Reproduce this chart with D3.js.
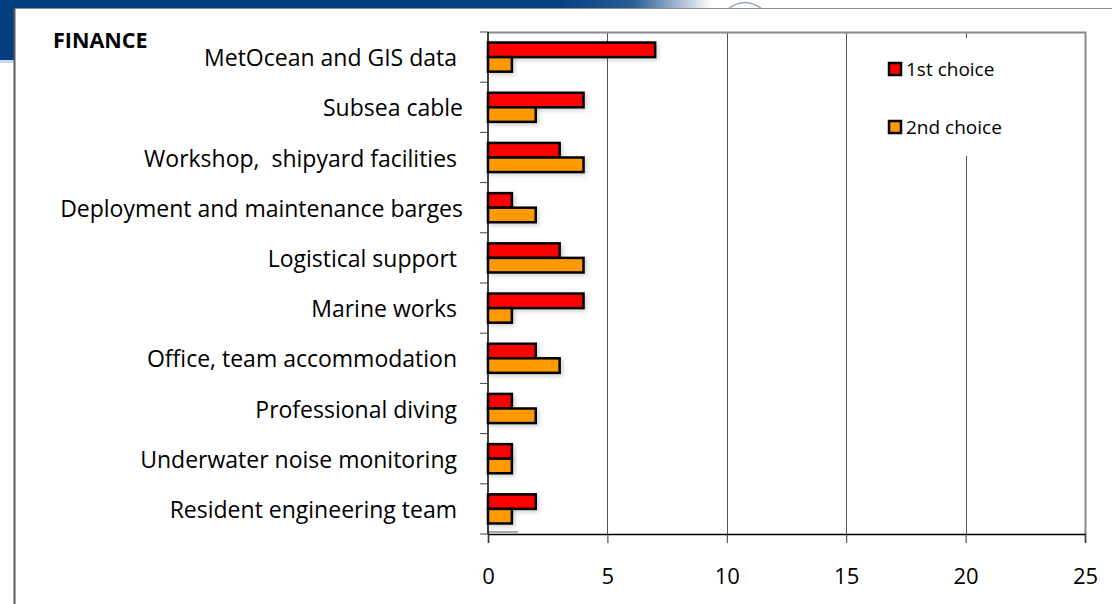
<!DOCTYPE html>
<html>
<head>
<meta charset="utf-8">
<script src="https://cdn.jsdelivr.net/npm/d3@7"></script>
<style>
  body { margin: 0; background: #fff; }
  svg { display: block; font-family: "Open Sans", sans-serif; }
</style>
</head>
<body>
<div id="chart"></div>
<script>
// data
var categories = ["MetOcean and GIS data ", "Subsea cable", "Workshop,  shipyard facilities ",
  "Deployment and maintenance barges", "Logistical support ", "Marine works ",
  "Office, team accommodation ", "Professional diving ", "Underwater noise monitoring ",
  "Resident engineering team "]
var firstChoice = [7, 4, 3, 1, 3, 4, 2, 1, 1, 2]
var secondChoice = [1, 2, 4, 2, 4, 1, 3, 2, 1, 1]
var seriesNames = ["1st choice", "2nd choice"]
var seriesColors = ["#ff0000", "#ff9900"]
var xTicks = [0, 5, 10, 15, 20, 25]

var width = 1112
    height = 604

var svg = d3.select("#chart")
  .append("svg")
    .attr("width", width)
    .attr("height", height)

var defs = svg.append("defs")

// slide header band
var grad = defs.append("linearGradient").attr("id", "band")
  .attr("x1", 0).attr("x2", 1).attr("y1", 0).attr("y2", 0)
grad.append("stop").attr("offset", "0%").attr("stop-color", "#023e7d")
grad.append("stop").attr("offset", "50%").attr("stop-color", "#043f80")
grad.append("stop").attr("offset", "57%").attr("stop-color", "#2a5d95")
grad.append("stop").attr("offset", "64%").attr("stop-color", "#ffffff")

svg.append("rect").attr("x", 0).attr("y", 0).attr("width", width).attr("height", 9)
  .attr("fill", "url(#band)")
svg.append("rect").attr("x", 0).attr("y", 0).attr("width", 15).attr("height", 60)
  .attr("fill", "#023e7d")
svg.append("rect").attr("x", 0).attr("y", 60).attr("width", 15).attr("height", 3)
  .attr("fill", "#c9d8ea")
// little logo edge
svg.append("path").attr("d", "M728,9 Q745,-4 762,9").attr("fill", "none")
  .attr("stroke", "#9aa7b8").attr("stroke-width", 1.5)

// white panel
svg.append("rect").attr("x", 14).attr("y", 8).attr("width", width - 14).attr("height", height - 8)
  .attr("fill", "#fff")
svg.append("line").attr("x1", 14).attr("x2", width).attr("y1", 8.5).attr("y2", 8.5)
  .attr("stroke", "#8c8c8c").attr("stroke-width", 1)
svg.append("line").attr("x1", 14.5).attr("x2", 14.5).attr("y1", 8).attr("y2", height)
  .attr("stroke", "#5a5a5a").attr("stroke-width", 2)

svg.append("text").attr("x", 53).attr("y", 48)
  .style("font-weight", "bold").style("font-size", "21.5px").text("FINANCE")

// plot area
var plotLeft = 488, plotRight = 1085, plotTop = 32, plotBottom = 534

var x = d3.scaleLinear().domain([0, 25]).range([plotLeft, plotRight])
var y = d3.scaleBand().domain(categories).range([plotTop, plotBottom]).paddingInner(0.42).paddingOuter(0.21)
var ySub = d3.scaleBand().domain(seriesNames).range([0, y.bandwidth()])

// gridlines
svg.selectAll("grid")
  .data(xTicks.slice(1, -1))
  .enter()
  .append("line")
    .attr("x1", function(d){ return Math.round(x(d)) + 0.5 })
    .attr("x2", function(d){ return Math.round(x(d)) + 0.5 })
    .attr("y1", plotTop)
    .attr("y2", plotBottom)
    .attr("stroke", "#555")
    .attr("stroke-width", 1)

// plot frame top + right
svg.append("path")
  .attr("d", "M" + plotLeft + "," + (plotTop + 0.5) + "H" + (plotRight + 0.5) + "V" + plotBottom)
  .attr("fill", "none").attr("stroke", "#8a8a8a").attr("stroke-width", 2)

// shadow for bars
var f = defs.append("filter").attr("id", "shadow").attr("x", "-10%").attr("y", "-30%")
  .attr("width", "130%").attr("height", "180%")
f.append("feDropShadow").attr("dx", 2).attr("dy", 2).attr("stdDeviation", 2)
  .attr("flood-color", "#000").attr("flood-opacity", 0.18)

var rows = categories.map(function(c, i){ return {cat: c, values: [firstChoice[i], secondChoice[i]]} })

var groups = svg.selectAll("rowGroup")
  .data(rows)
  .enter()
  .append("g")
    .attr("transform", function(d){ return "translate(0," + y(d.cat) + ")" })

groups.selectAll("bar")
  .data(function(d){ return d.values.map(function(v, i){ return {name: seriesNames[i], value: v, i: i} }) })
  .enter()
  .append("rect")
    .attr("x", x(0))
    .attr("y", function(d){ return ySub(d.name) })
    .attr("width", function(d){ return x(d.value) - x(0) })
    .attr("height", ySub.bandwidth())
    .attr("fill", function(d){ return seriesColors[d.i] })
    .attr("stroke", "#000")
    .attr("stroke-width", 2.5)
    .attr("filter", "url(#shadow)")

// little gray artifact under the last bar
svg.append("line").attr("x1", plotLeft).attr("x2", plotLeft + 30).attr("y1", plotBottom - 2).attr("y2", plotBottom - 2)
  .attr("stroke", "#aaa").attr("stroke-width", 2)

// x axis
var xAxis = svg.append("g")
  .attr("transform", "translate(0," + plotBottom + ")")
  .call(d3.axisBottom(x).tickValues(xTicks).tickSize(9).tickPadding(25))
xAxis.select(".domain").attr("stroke", "#000").attr("stroke-width", 1.5)
xAxis.selectAll(".tick line").attr("stroke", "#333")
xAxis.selectAll(".tick text").style("font-size", "22px").attr("fill", "#000")
  .style("font-family", "'Open Sans', sans-serif")

// y axis: line + ticks at category boundaries
svg.append("line").attr("x1", plotLeft).attr("x2", plotLeft).attr("y1", plotTop).attr("y2", plotBottom)
  .attr("stroke", "#000").attr("stroke-width", 1.5)
var step = (plotBottom - plotTop) / categories.length
svg.selectAll("ytick")
  .data(d3.range(categories.length + 1))
  .enter()
  .append("line")
    .attr("x1", plotLeft - 8).attr("x2", plotLeft)
    .attr("y1", function(d){ return plotTop + d * step })
    .attr("y2", function(d){ return plotTop + d * step })
    .attr("stroke", "#444")

svg.selectAll("ylabels")
  .data(categories)
  .enter()
  .append("text")
    .attr("x", 463)
    .attr("y", function(d){ return y(d) + y.bandwidth() / 2 })
    .attr("text-anchor", "end")
    .attr("dominant-baseline", "central")
    .style("white-space", "pre")
    .style("font-size", "23px")
    .text(function(d){ return d })

// legend (white box hides the 20 gridline)
svg.append("rect").attr("x", 880).attr("y", 38).attr("width", 130).attr("height", 118).attr("fill", "#fff")
var size = 12
svg.selectAll("legDots")
  .data(seriesNames)
  .enter()
  .append("rect")
    .attr("x", 889)
    .attr("y", function(d, i){ return 63 + i * 58 })
    .attr("width", size)
    .attr("height", size)
    .attr("fill", function(d, i){ return seriesColors[i] })
    .attr("stroke", "#000")
    .attr("stroke-width", 2.5)
svg.selectAll("legLabels")
  .data(seriesNames)
  .enter()
  .append("text")
    .attr("x", 906)
    .attr("y", function(d, i){ return 69 + i * 58 })
    .attr("dominant-baseline", "central")
    .style("font-size", "19px")
    .text(function(d){ return d })
</script>
</body>
</html>
